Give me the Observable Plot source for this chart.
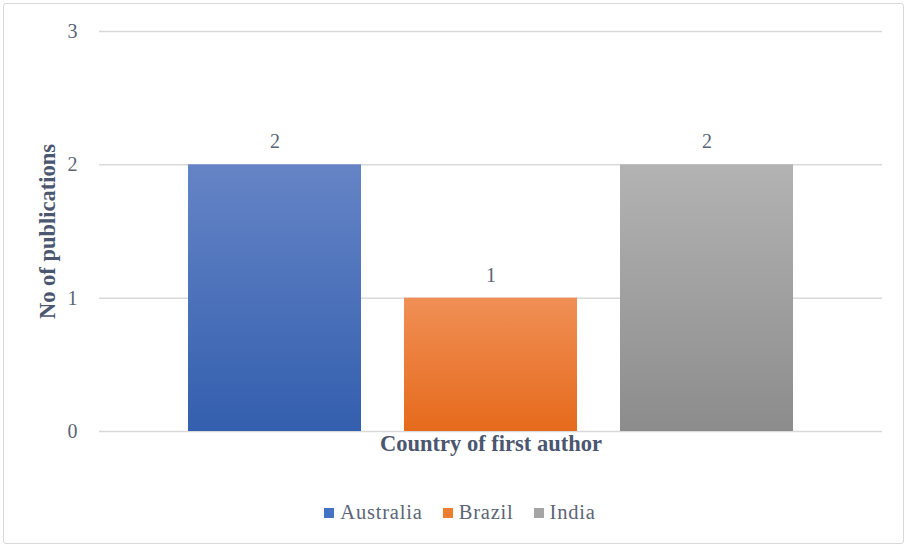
<!DOCTYPE html>
<html>
<head>
<meta charset="utf-8">
<script src="https://cdn.jsdelivr.net/npm/d3@7"></script>
<script src="https://cdn.jsdelivr.net/npm/@observablehq/plot@0.6"></script>
<style>
  html, body { margin: 0; padding: 0; background: #fff; }
  body { width: 906px; height: 548px; position: relative; overflow: hidden; font-family: "Liberation Serif", "Times New Roman", serif; }
  #frame { position: absolute; left: 3px; top: 3px; width: 899px; height: 539px; border: 1.5px solid #d9d9d9; border-radius: 3px; }
  #chart { position: absolute; left: 0; top: 0; }
  #legend { position: absolute; left: 0; top: 501px; width: 920px; display: flex; justify-content: center; gap: 20px; font-size: 20.5px; color: #5b6577; letter-spacing: 0.8px; }
  .item { display: flex; align-items: center; gap: 6px; }
  .sw { width: 10px; height: 10px; display: inline-block; }
</style>
</head>
<body>
<div id="frame"></div>
<div id="chart"></div>
<div id="legend"></div>
<script>
const categories = ["Australia", "Brazil", "India"];
const publications = [2, 1, 2];
const colors = ["#4472c4", "#ed7d31", "#a5a5a5"];
const gradTop = ["#6584c6", "#f08f55", "#b3b3b3"];
const gradBottom = ["#335fae", "#e66a1c", "#8c8c8c"];
const yTicks = [0, 1, 2, 3];
const yTitle = "No of publications";
const xTitle = "Country of first author";

const data = categories.map((c, i) => ({country: c, value: publications[i], grad: `url(#grad${i})`}));

function defsMark() {
  const ns = "http://www.w3.org/2000/svg";
  const g = document.createElementNS(ns, "defs");
  categories.forEach((c, i) => {
    const lg = document.createElementNS(ns, "linearGradient");
    lg.setAttribute("id", `grad${i}`);
    lg.setAttribute("x1", "0"); lg.setAttribute("y1", "0");
    lg.setAttribute("x2", "0"); lg.setAttribute("y2", "1");
    const s1 = document.createElementNS(ns, "stop");
    s1.setAttribute("offset", "0"); s1.setAttribute("stop-color", gradTop[i]);
    const s2 = document.createElementNS(ns, "stop");
    s2.setAttribute("offset", "1"); s2.setAttribute("stop-color", gradBottom[i]);
    lg.appendChild(s1); lg.appendChild(s2);
    g.appendChild(lg);
  });
  return g;
}

const chart = Plot.plot({
  width: 906,
  height: 480,
  marginTop: 31,
  marginBottom: 49,
  marginLeft: 99,
  marginRight: 24,
  style: { fontFamily: "'Liberation Serif', 'Times New Roman', serif", fontSize: "20px", color: "#5b6577", background: "transparent" },
  x: { domain: categories, paddingInner: 0.2, paddingOuter: 0.41, axis: null },
  y: { domain: [0, 3], axis: null },
  color: { type: "identity" },
  marks: [
    defsMark,
    Plot.ruleY(yTicks, { stroke: "#d9d9d9", strokeWidth: 1.5 }),
    Plot.text(yTicks, { x: null, y: d => d, text: d => String(d), frameAnchor: "left", textAnchor: "end", dx: -22, fill: "#5b6577", fontSize: 20 }),
    Plot.barY(data, { x: "country", y: "value", fill: "grad" }),
    Plot.text(data, { x: "country", y: "value", text: d => String(d.value), dy: -23, fill: "#5b6577", fontSize: 20 }),
    Plot.text([yTitle], { frameAnchor: "left", textAnchor: "middle", rotate: -90, dx: -52, text: d => d, fontWeight: "bold", fill: "#4b5670", fontSize: 22.5 }),
    Plot.text([xTitle], { frameAnchor: "bottom", dy: 19, text: d => d, fontWeight: "bold", fill: "#4b5670", fontSize: 22.5 })
  ]
});
document.getElementById("chart").appendChild(chart);

const legend = document.getElementById("legend");
categories.forEach((c, i) => {
  const item = document.createElement("div");
  item.className = "item";
  const sw = document.createElement("span");
  sw.className = "sw";
  sw.style.background = colors[i];
  const t = document.createElement("span");
  t.textContent = c;
  item.appendChild(sw); item.appendChild(t);
  legend.appendChild(item);
});
</script>
</body>
</html>
